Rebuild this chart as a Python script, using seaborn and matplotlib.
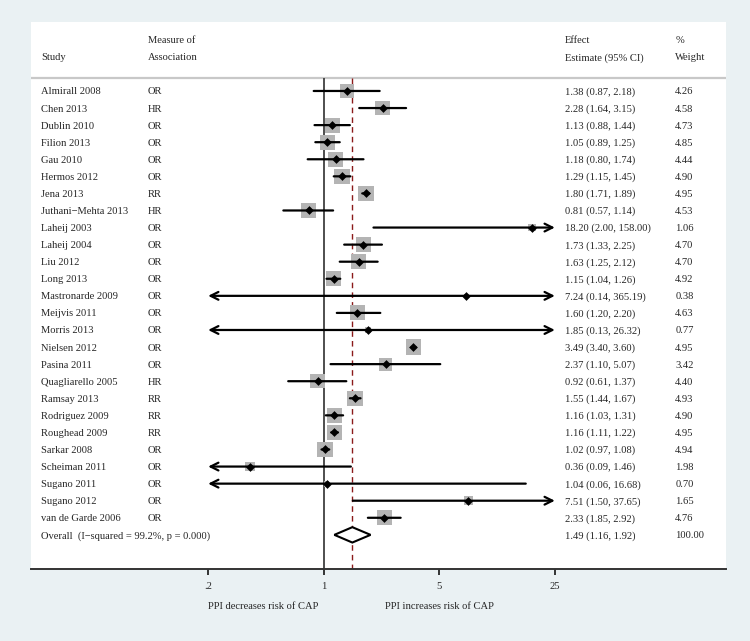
import numpy as np
import pandas as pd
import matplotlib
matplotlib.use("Agg")
import matplotlib.pyplot as plt
import seaborn as sns

# ---------------- data ----------------
studies = ["Almirall 2008", "Chen 2013", "Dublin 2010", "Filion 2013", "Gau 2010",
           "Hermos 2012", "Jena 2013", "Juthani\u2212Mehta 2013", "Laheij 2003", "Laheij 2004",
           "Liu 2012", "Long 2013", "Mastronarde 2009", "Meijvis 2011", "Morris 2013",
           "Nielsen 2012", "Pasina 2011", "Quagliarello 2005", "Ramsay 2013", "Rodriguez 2009",
           "Roughead 2009", "Sarkar 2008", "Scheiman 2011", "Sugano 2011", "Sugano 2012",
           "van de Garde 2006"]
measures = ["OR", "HR", "OR", "OR", "OR", "OR", "RR", "HR", "OR", "OR", "OR", "OR", "OR",
            "OR", "OR", "OR", "OR", "HR", "RR", "RR", "RR", "OR", "OR", "OR", "OR", "OR"]
estimates = [1.38, 2.28, 1.13, 1.05, 1.18, 1.29, 1.80, 0.81, 18.20, 1.73, 1.63, 1.15, 7.24,
             1.60, 1.85, 3.49, 2.37, 0.92, 1.55, 1.16, 1.16, 1.02, 0.36, 1.04, 7.51, 2.33]
lower = [0.87, 1.64, 0.88, 0.89, 0.80, 1.15, 1.71, 0.57, 2.00, 1.33, 1.25, 1.04, 0.14,
         1.20, 0.13, 3.40, 1.10, 0.61, 1.44, 1.03, 1.11, 0.97, 0.09, 0.06, 1.50, 1.85]
upper = [2.18, 3.15, 1.44, 1.25, 1.74, 1.45, 1.89, 1.14, 158.00, 2.25, 2.12, 1.26, 365.19,
         2.20, 26.32, 3.60, 5.07, 1.37, 1.67, 1.31, 1.22, 1.08, 1.46, 16.68, 37.65, 2.92]
weights = [4.26, 4.58, 4.73, 4.85, 4.44, 4.90, 4.95, 4.53, 1.06, 4.70, 4.70, 4.92, 0.38,
           4.63, 0.77, 4.95, 3.42, 4.40, 4.93, 4.90, 4.95, 4.94, 1.98, 0.70, 1.65, 4.76]
overall_label = "Overall  (I\u2212squared = 99.2%, p = 0.000)"
overall_est, overall_lo, overall_hi, overall_w = 1.49, 1.16, 1.92, 100.00
tick_values = [0.2, 1, 5, 25]
tick_labels = [".2", "1", "5", "25"]
axis_left_label = "PPI decreases risk of CAP"
axis_right_label = "PPI increases risk of CAP"
headers = [("Study", ""), ("Association", "Measure of"), ("Estimate (95% CI)", "Effect"), ("Weight", "%")]

# ---------------- style ----------------
BG = "#eaf1f3"
BOX = "#b4b4b4"
FS = 7.6
VA = "center_baseline"
sns.set_style("white")
plt.rcParams["font.family"] = ["Liberation Serif", "DejaVu Serif"]

df = pd.DataFrame({"study": studies, "measure": measures, "est": estimates,
                   "lo": lower, "hi": upper, "w": weights})
df["row"] = np.arange(len(df))
clip_lo, clip_hi = tick_values[0], tick_values[-1]

fig = plt.figure(figsize=(7.5, 6.41), dpi=100)
fig.patch.set_facecolor(BG)
ax = fig.add_axes([31 / 750, 1 - 569 / 641, 695 / 750, 547 / 641])
ax.set_facecolor("white")
ax.set_xscale("log")
ax.set_xlim(0.01696, 271.3)
overall_row = len(df)
ax.set_ylim(28.0, -4.04)

# header separator and reference lines
ax.axhline(-0.76, color="#c8c8c8", lw=1.6, zorder=1)
ax.vlines(1, -0.76, 28.0, color="#404040", lw=1.3, zorder=1)
ax.vlines(overall_est, -0.76, 28.0, color="#8b1a1a", lw=1.0, linestyles=(0, (4, 3)), zorder=1)

# weight boxes (area proportional to weight)
k = 24.8
wmin, wmax = min(weights), max(weights)
sns.scatterplot(data=df, x="est", y="row", size="w", sizes=(k * wmin, k * wmax),
                size_norm=(wmin, wmax), marker="s", color=BOX, linewidth=0,
                legend=False, ax=ax, zorder=2)

# confidence intervals, with arrows when truncated
for _, r in df.iterrows():
    a = max(r["lo"], clip_lo)
    b = min(r["hi"], clip_hi)
    left_arrow = r["lo"] < clip_lo
    right_arrow = r["hi"] > clip_hi
    if left_arrow and right_arrow:
        style = "<->"
    elif left_arrow:
        style = "<-"
    elif right_arrow:
        style = "->"
    else:
        style = "-"
    ax.annotate("", xy=(b, r["row"]), xytext=(a, r["row"]),
                arrowprops=dict(arrowstyle=style, lw=1.6, color="black",
                                shrinkA=0, shrinkB=0, mutation_scale=14),
                zorder=3)

# point estimates
sns.scatterplot(data=df, x="est", y="row", marker="D", color="black", s=20,
                linewidth=0, legend=False, ax=ax, zorder=4)

# overall diamond
h = 0.45
ax.fill([overall_lo, overall_est, overall_hi, overall_est],
        [overall_row, overall_row - h, overall_row, overall_row + h],
        facecolor="white", edgecolor="black", lw=1.5, zorder=4)

# text columns
tr = ax.get_yaxis_transform()
col_x = [0.0144, 0.168, 0.768, 0.927]
for i, r in df.iterrows():
    ax.text(col_x[0], r["row"], r["study"], transform=tr, va=VA, ha="left", fontsize=FS)
    ax.text(col_x[1], r["row"], r["measure"], transform=tr, va=VA, ha="left", fontsize=FS)
    ax.text(col_x[2], r["row"], f"{r['est']:.2f} ({r['lo']:.2f}, {r['hi']:.2f})",
            transform=tr, va=VA, ha="left", fontsize=FS)
    ax.text(col_x[3], r["row"], f"{r['w']:.2f}", transform=tr, va=VA, ha="left", fontsize=FS)
ax.text(col_x[0], overall_row, overall_label, transform=tr, va=VA, ha="left", fontsize=FS)
ax.text(col_x[2], overall_row, f"{overall_est:.2f} ({overall_lo:.2f}, {overall_hi:.2f})",
        transform=tr, va=VA, ha="left", fontsize=FS)
ax.text(col_x[3], overall_row, f"{overall_w:.2f}", transform=tr, va=VA, ha="left", fontsize=FS)

for cx, (line2, line1) in zip(col_x, headers):
    if line1:
        ax.text(cx, -3.0, line1, transform=tr, va=VA, ha="left", fontsize=FS)
    ax.text(cx, -2.0, line2, transform=tr, va=VA, ha="left", fontsize=FS)

# axis
for s in ["top", "left", "right"]:
    ax.spines[s].set_visible(False)
ax.spines["bottom"].set_color("#333333")
ax.spines["bottom"].set_linewidth(1.4)
ax.set_yticks([])
ax.set_xticks(tick_values)
ax.set_xticklabels(tick_labels)
ax.xaxis.set_minor_locator(matplotlib.ticker.NullLocator())
ax.tick_params(axis="x", which="major", length=4.5, width=1.4, color="#333333",
               labelsize=FS, pad=5, bottom=True)
ax.set_xlabel("")
ax.set_ylabel("")

xtr = ax.get_xaxis_transform()
ax.text(0.43, -0.0676, axis_left_label, transform=xtr, ha="center", va=VA, fontsize=FS)
ax.text(5.0, -0.0676, axis_right_label, transform=xtr, ha="center", va=VA, fontsize=FS)

fig.savefig("out.png", dpi=100, facecolor=BG)
